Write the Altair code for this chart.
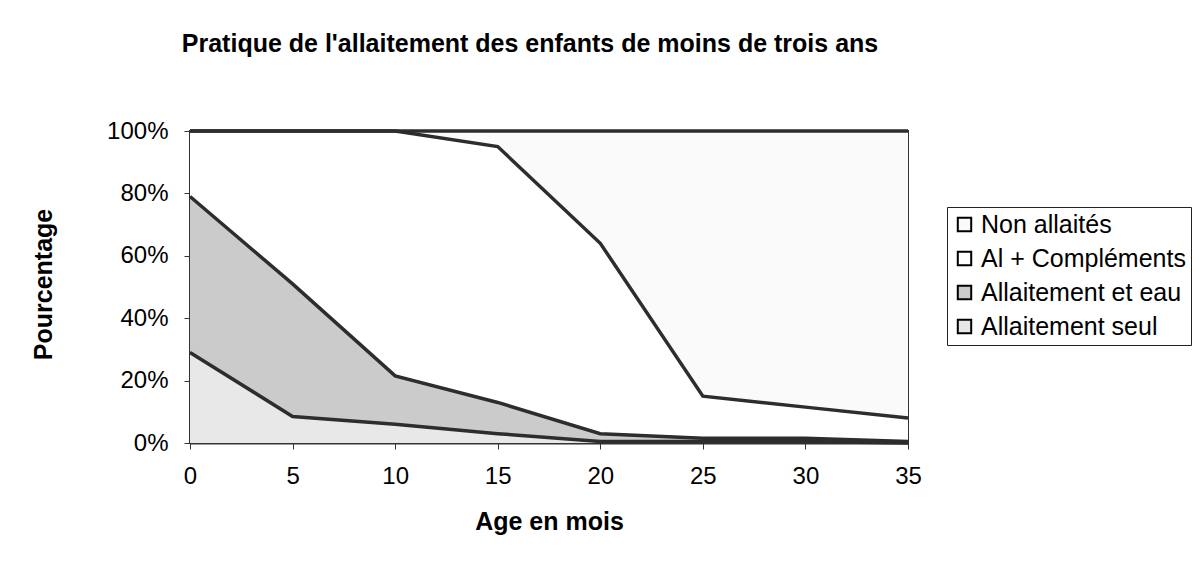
import altair as alt
import pandas as pd

ages = [0, 5, 10, 15, 20, 25, 30, 35]
series_names = ["Non allaités", "Al + Compléments", "Allaitement et eau", "Allaitement seul"]
allaitement_seul = [29, 8.5, 6, 3, 0.5, 0.5, 0.5, 0]
allaitement_eau = [50, 42.5, 15.5, 10, 2.5, 1, 1, 0.5]
al_complements = [21, 49, 78.5, 82, 61, 13.5, 10, 7.5]
non_allaites = [round(100 - a - b - c, 2) for a, b, c in zip(allaitement_seul, allaitement_eau, al_complements)]

fill_colors = ["#fafafa", "#ffffff", "#cbcbcb", "#e8e8e8"]

rows = []
for i, age in enumerate(ages):
    for order, (name, vals) in enumerate([
        ("Allaitement seul", allaitement_seul),
        ("Allaitement et eau", allaitement_eau),
        ("Al + Compléments", al_complements),
        ("Non allaités", non_allaites),
    ]):
        rows.append({"age": age, "serie": name, "pct": vals[i], "ord": order})
df = pd.DataFrame(rows)

FONT = "Liberation Sans"

base = alt.Chart(df).transform_stack(
    stack="pct", groupby=["age"], sort=[alt.SortField("ord", order="ascending")],
    as_=["y0", "y1"],
)

x_enc = alt.X("age:Q",
              scale=alt.Scale(domain=[0, 35], nice=False, zero=False),
              axis=alt.Axis(values=ages, title="Age en mois", grid=False,
                            labelFontSize=24, labelFont=FONT, labelColor="black",
                            labelPadding=15, labelFlush=False,
                            tickSize=6, tickColor="#333",
                            domainColor="#333", domainWidth=2,
                            titleFontSize=25, titleFont=FONT, titleFontWeight="bold",
                            titleColor="black", titleBaseline="alphabetic",
                            titleX=359, titleY=86))
y_scale = alt.Scale(domain=[0, 100], nice=False)

areas = base.mark_area(opacity=1).encode(
    x=x_enc,
    y=alt.Y("y0:Q", scale=y_scale,
            axis=alt.Axis(values=[0, 20, 40, 60, 80, 100],
                          labelExpr="datum.value + '%'",
                          title="Pourcentage", grid=False,
                          labelFontSize=24, labelFont=FONT, labelColor="black",
                          labelPadding=16, tickSize=6, tickColor="#333",
                          domainColor="#333", domainWidth=2,
                          titleFontSize=25, titleFont=FONT, titleFontWeight="bold",
                          titleColor="black", titleBaseline="alphabetic",
                          titleX=-139, titleY=153)),
    y2="y1:Q",
    color=alt.Color("serie:N",
                    scale=alt.Scale(domain=series_names, range=fill_colors),
                    legend=alt.Legend(title=None, orient="none",
                                      legendX=757, legendY=76,
                                      symbolType="square", symbolSize=180,
                                      symbolStrokeColor="black", symbolStrokeWidth=2,
                                      labelFontSize=25, labelFont=FONT, labelColor="black",
                                      labelOffset=4,
                                      rowPadding=8, padding=5,
                                      strokeColor="#222", fillColor="white",
                                      labelLimit=400)),
)

lines = base.mark_line(color="#2d2d2d", strokeWidth=3.5).encode(
    x="age:Q",
    y="y1:Q",
    detail="serie:N",
)

chart = alt.layer(areas, lines).properties(
    width=718,
    height=312,
    padding={"left": 182, "top": 123, "right": 286, "bottom": 111},
    autosize=alt.AutoSizeParams(type="none"),
    title=alt.TitleParams("Pratique de l'allaitement des enfants de moins de trois ans",
                          fontSize=25, font=FONT, fontWeight="bold", color="black",
                          anchor="middle", dx=-19, offset=62),
).configure_view(stroke="#333", strokeWidth=2)

chart.save("out.html", embed_options={"renderer": "svg", "actions": False})
